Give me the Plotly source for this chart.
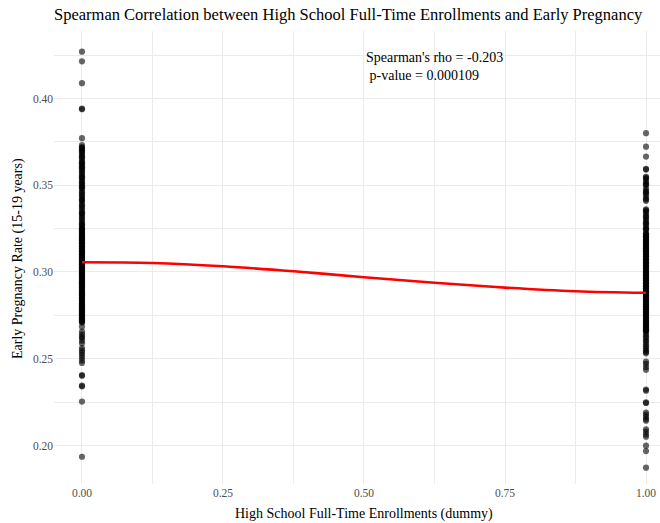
import plotly.graph_objects as go

# Early pregnancy rate (15-19 years) by full-time high school enrollment dummy
rate_dummy0 = [
    0.4270, 0.4214, 0.4088, 0.3942, 0.3938, 0.3771,
    0.3732, 0.3720, 0.3709, 0.3701, 0.3688, 0.3676, 0.3668, 0.3655, 0.3641, 0.3633,
    0.3622, 0.3610, 0.3598, 0.3589, 0.3571, 0.3562, 0.3551, 0.3540, 0.3528, 0.3519,
    0.3503, 0.3494, 0.3482, 0.3470, 0.3459, 0.3441, 0.3432, 0.3420, 0.3409, 0.3395,
    0.3384, 0.3366, 0.3355, 0.3344, 0.3331, 0.3320, 0.3302, 0.3291, 0.3280, 0.3268,
    0.3259,
    0.3250, 0.3243, 0.3236, 0.3228, 0.3219, 0.3213, 0.3204, 0.3196, 0.3188, 0.3181,
    0.3172, 0.3165, 0.3157, 0.3148, 0.3140, 0.3133, 0.3124, 0.3117, 0.3108, 0.3100,
    0.3093, 0.3085, 0.3076, 0.3069, 0.3061, 0.3052, 0.3045, 0.3037, 0.3028, 0.3021,
    0.3013, 0.3005, 0.2997, 0.2989, 0.2981, 0.2973, 0.2966, 0.2957, 0.2950, 0.2941,
    0.2934, 0.2926, 0.2917, 0.2910, 0.2902, 0.2893, 0.2886, 0.2877, 0.2870, 0.2862,
    0.2853, 0.2846, 0.2838, 0.2829, 0.2821, 0.2814, 0.2805, 0.2797, 0.2790, 0.2781,
    0.2773, 0.2766, 0.2757, 0.2749, 0.2741, 0.2733, 0.2726, 0.2717, 0.2709,
    0.2685, 0.2656, 0.2641, 0.2628, 0.2619, 0.2604, 0.2589, 0.2562, 0.2548, 0.2535,
    0.2521, 0.2507, 0.2490, 0.2476, 0.2406, 0.2402, 0.2345, 0.2341, 0.2253, 0.1935,
    0.3715, 0.3694, 0.3662, 0.3627, 0.3604, 0.3580, 0.3546, 0.3512, 0.3488, 0.3450,
    0.3415, 0.3377, 0.3338, 0.3311, 0.3275,
    0.3247, 0.3232, 0.3215, 0.3200, 0.3184, 0.3168, 0.3152, 0.3136, 0.3120, 0.3104,
    0.3089, 0.3072, 0.3057, 0.3041, 0.3025, 0.3009, 0.2993, 0.2977, 0.2961, 0.2945,
    0.2930, 0.2913, 0.2898, 0.2881, 0.2866, 0.2850, 0.2834, 0.2817, 0.2801, 0.2785,
    0.2769, 0.2753, 0.2737, 0.2721, 0.2713,
]

rate_dummy1 = [
    0.3800, 0.3722, 0.3665, 0.3594, 0.3590,
    0.3549, 0.3537, 0.3524, 0.3512, 0.3498, 0.3481, 0.3468, 0.3453, 0.3441, 0.3426,
    0.3410,
    0.3361, 0.3349, 0.3338, 0.3325, 0.3311, 0.3300, 0.3287, 0.3274, 0.3262, 0.3251,
    0.3242,
    0.3223, 0.3215, 0.3206, 0.3198, 0.3190, 0.3181, 0.3173, 0.3164, 0.3157, 0.3148,
    0.3140, 0.3131, 0.3123, 0.3115, 0.3106, 0.3098, 0.3090, 0.3081, 0.3073, 0.3065,
    0.3056, 0.3048, 0.3039, 0.3031, 0.3023, 0.3014, 0.3006, 0.2998, 0.2989, 0.2981,
    0.2973, 0.2964, 0.2956, 0.2948, 0.2939, 0.2931, 0.2923, 0.2914, 0.2906, 0.2898,
    0.2889, 0.2881, 0.2873, 0.2864, 0.2856, 0.2848, 0.2839, 0.2831, 0.2823, 0.2814,
    0.2806, 0.2798, 0.2789, 0.2781, 0.2773, 0.2764, 0.2756, 0.2748, 0.2739, 0.2731,
    0.2723, 0.2714, 0.2706, 0.2698, 0.2689, 0.2681, 0.2673, 0.2664, 0.2656,
    0.2641, 0.2629, 0.2620, 0.2606, 0.2597, 0.2583, 0.2572, 0.2561, 0.2548, 0.2539,
    0.2531,
    0.2483, 0.2470, 0.2452, 0.2436, 0.2322, 0.2316, 0.2248, 0.2245, 0.2190, 0.2178,
    0.2165, 0.2152, 0.2143, 0.2093, 0.2080, 0.2064, 0.2051, 0.1999, 0.1968, 0.1872,
    0.3219, 0.3202, 0.3185, 0.3169, 0.3152, 0.3136, 0.3119, 0.3102, 0.3086, 0.3069,
    0.3052, 0.3035, 0.3019, 0.3002, 0.2985, 0.2969, 0.2952, 0.2935, 0.2918, 0.2902,
    0.2885, 0.2868, 0.2852, 0.2835, 0.2818, 0.2802, 0.2785, 0.2768, 0.2752, 0.2735,
    0.2718, 0.2702, 0.2685, 0.2668, 0.2660,
    0.3544, 0.3505, 0.3460, 0.3418, 0.3355, 0.3318, 0.3281, 0.3246,
]

# Smoothed (loess) fit evaluated along the dummy axis
smooth_x = [0.0, 0.125, 0.25, 0.375, 0.5, 0.625, 0.75, 0.875, 1.0]
smooth_y = [0.3056, 0.3052, 0.3033, 0.3004, 0.2970, 0.2938, 0.2910, 0.2889, 0.2880]

x_ticks = [0.0, 0.25, 0.5, 0.75, 1.0]
x_tick_labels = ["0.00", "0.25", "0.50", "0.75", "1.00"]
y_ticks = [0.20, 0.25, 0.30, 0.35, 0.40]
y_tick_labels = ["0.20", "0.25", "0.30", "0.35", "0.40"]

rho_text = "Spearman's rho = -0.203<br> p-value = 0.000109"

SERIF = "Liberation Serif, Times New Roman, serif"
GRID = "#EBEBEB"

fig = go.Figure()

fig.add_trace(go.Scatter(
    x=[0] * len(rate_dummy0) + [1] * len(rate_dummy1),
    y=rate_dummy0 + rate_dummy1,
    mode="markers",
    marker=dict(size=6.2, color="rgba(0,0,0,0.6)", line=dict(width=0)),
    showlegend=False,
    hoverinfo="skip",
))

fig.add_trace(go.Scatter(
    x=smooth_x,
    y=smooth_y,
    mode="lines",
    line=dict(color="#FF0000", width=2.6, shape="spline"),
    showlegend=False,
    hoverinfo="skip",
))

fig.update_layout(
    width=660,
    height=523,
    margin=dict(l=54, r=0, t=31, b=39),
    paper_bgcolor="white",
    plot_bgcolor="white",
    font=dict(family=SERIF, color="black"),
    title=dict(
        text="Spearman Correlation between High School Full-Time Enrollments and Early Pregnancy",
        font=dict(family=SERIF, size=16.5, color="black"),
        xref="paper", x=0, xanchor="left",
        yref="container", y=1 - 14 / 523, yanchor="middle",
    ),
    xaxis=dict(
        range=[-0.0496, 1.0248],
        tickmode="array", tickvals=x_ticks, ticktext=x_tick_labels,
        tickfont=dict(family=SERIF, size=11.5, color="#4D4D4D"),
        showgrid=True, gridcolor=GRID, gridwidth=1.2,
        minor=dict(dtick=0.125, tick0=0, showgrid=True, gridcolor=GRID, gridwidth=0.7),
        zeroline=False, showline=False, ticks="",
    ),
    yaxis=dict(
        range=[0.1778, 0.4389],
        tickmode="array", tickvals=y_ticks, ticktext=y_tick_labels,
        tickfont=dict(family=SERIF, size=11.5, color="#4D4D4D"),
        showgrid=True, gridcolor=GRID, gridwidth=1.2,
        minor=dict(dtick=0.025, tick0=0, showgrid=True, gridcolor=GRID, gridwidth=0.7),
        zeroline=False, showline=False, ticks="",
    ),
    annotations=[
        dict(
            text=rho_text, x=0.5, y=0.4187, xref="x", yref="y",
            xanchor="left", yanchor="middle", align="left", showarrow=False,
            font=dict(family=SERIF, size=14, color="black"),
        ),
        dict(
            text="High School Full-Time Enrollments (dummy)",
            x=0.5, xref="x", y=-30 / 453, yref="paper",
            xanchor="center", yanchor="middle", showarrow=False,
            font=dict(family=SERIF, size=14, color="black"),
        ),
        dict(
            text="Early Pregnancy Rate (15-19 years)",
            x=(18 - 54) / 606, xref="paper", y=(484 - 259) / 453, yref="paper",
            xanchor="center", yanchor="middle", textangle=-90, showarrow=False,
            font=dict(family=SERIF, size=14, color="black"),
        ),
    ],
)

fig.write_html("out.html")
